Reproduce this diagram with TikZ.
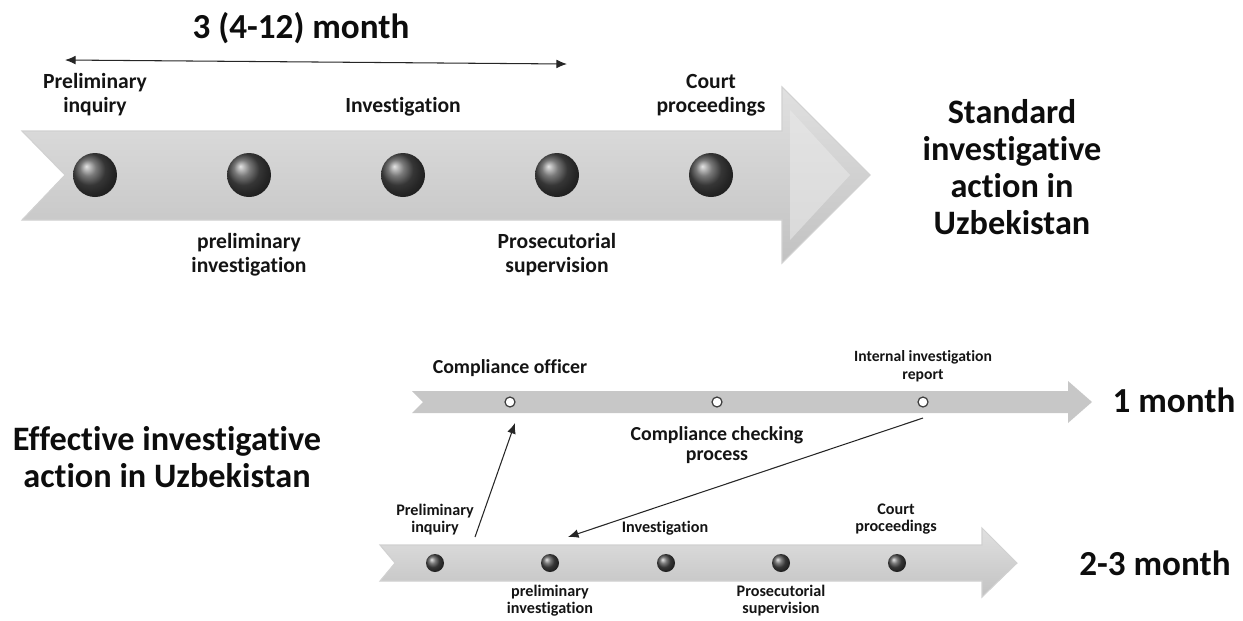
\documentclass[tikz,border=0pt]{standalone}
\usepackage{fontspec}
\setmainfont{Carlito}[Ligatures=NoCommon]
\usepackage{tikz}
\usetikzlibrary{arrows.meta}
\tikzstyle{band}=[draw=black!18,line width=0.6pt,top color=black!12,bottom color=black!24]
\tikzstyle{flatband}=[fill=black!22]
\tikzstyle{bigdot}=[circle,minimum size=0.88cm,inner sep=0pt,shading=ball,ball color=black!70]
\tikzstyle{smalldot}=[circle,minimum size=0.36cm,inner sep=0pt,shading=ball,ball color=black!70]
\tikzstyle{ring}=[circle,draw=black!75,line width=0.7pt,fill=white,minimum size=0.2cm,inner sep=0pt]
\tikzstyle{lbl}=[align=center,text=black!92,font=\bfseries\fontsize{12.3}{13.6}\selectfont]
\tikzstyle{smalllbl}=[align=center,text=black!92,font=\bfseries\fontsize{9.2}{9.6}\selectfont]
\tikzstyle{tinylbl}=[align=center,text=black!92,font=\bfseries\fontsize{8.9}{10.2}\selectfont]
\tikzstyle{midlbl}=[align=center,text=black!92,font=\bfseries\fontsize{11.3}{11.8}\selectfont]
\tikzstyle{biglbl}=[align=center,text=black!95,font=\bfseries\fontsize{19.5}{21}\selectfont]
\tikzstyle{timelbl}=[align=center,text=black!95,font=\bfseries\fontsize{20}{22}\selectfont]
\tikzstyle{conn}=[black!85,line width=0.6pt,-{Latex[length=6pt,width=5pt]}]

\begin{document}
\begin{tikzpicture}[x=0.02cm,y=-0.02cm]
\useasboundingbox (0,0) rectangle (1243,620);

% standard process
\node[timelbl] (span) at (301,28) {3 (4-12) month};
\coordinate (spanl) at (65,60);
\coordinate (spanr) at (567,64);
\draw[black!85,line width=0.6pt,{Latex[length=6pt,width=5pt]}-{Latex[length=6pt,width=5pt]}] (spanl) -- (spanr);

\path[band] (22,131) -- (782,131) -- (782,87) -- (870,175) -- (782,263) -- (782,220) -- (22,220) -- (65,175) -- cycle;
\fill[black!9,opacity=0.6] (790,110) -- (850,175) -- (790,240) -- cycle;
\foreach \x/\name in {95/d1, 249/d2, 403/d3, 557/d4, 711/d5}
    \node[bigdot] (\name) at (\x,175) {};

\node[lbl] (inq) at (95,95) {Preliminary\\inquiry};
\node[lbl] (inv) at (403,107) {Investigation};
\node[lbl] (court) at (711,95) {Court\\proceedings};
\node[lbl] (pre) at (249,255) {preliminary\\investigation};
\node[lbl] (pros) at (557,255) {Prosecutorial\\supervision};
\node[biglbl] (std) at (1012,167) {Standard\\investigative\\action in\\Uzbekistan};

% effective process
\node[biglbl] (eff) at (167,457) {Effective investigative\\action in Uzbekistan};

\path[flatband] (412,391) -- (1068,391) -- (1068,381) -- (1092,402) -- (1068,423) -- (1068,413) -- (412,413) -- (423,402) -- cycle;
\foreach \x/\name in {510/c1, 717/c2, 923/c3}
    \node[ring] (\name) at (\x,402) {};
\node[midlbl] (officer) at (510,368) {Compliance officer};
\node[midlbl] (check) at (717,445) {Compliance checking\\process};
\node[tinylbl] (report) at (923,366) {Internal investigation\\report};
\node[timelbl] (one) at (1174,400) {1 month};

\path[band] (380,545) -- (982,545) -- (982,528) -- (1017,563) -- (982,597) -- (982,581) -- (380,581) -- (395,563) -- cycle;
\foreach \x/\name in {435/e1, 550/e2, 666/e3, 781/e4, 897/e5}
    \node[smalldot] (\name) at (\x,563) {};
\node[smalllbl] (einq) at (435,520) {Preliminary\\inquiry};
\node[smalllbl] (einv) at (665,528) {Investigation};
\node[smalllbl] (ecourt) at (896,519) {Court\\proceedings};
\node[smalllbl] (epre) at (550,601) {preliminary\\investigation};
\node[smalllbl] (epros) at (781,601) {Prosecutorial\\supervision};
\node[timelbl] (two) at (1155,563) {2-3 month};

\coordinate (up) at (475,537);
\coordinate (upin) at (515,423);
\coordinate (down) at (923,418);
\coordinate (downin) at (568,537);
\draw[conn] (up) -- (upin);
\draw[conn] (down) -- (downin);

\end{tikzpicture}
\end{document}
